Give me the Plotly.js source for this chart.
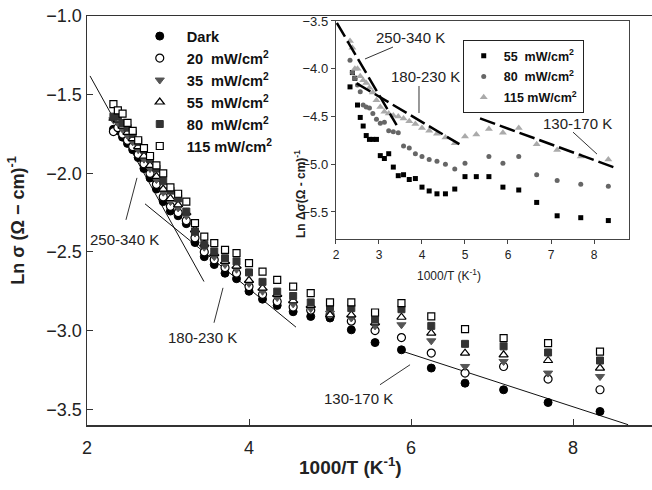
<!DOCTYPE html>
<html><head><meta charset="utf-8">
<script src="https://cdn.plot.ly/plotly-3.0.1.min.js"></script>
<style>body{margin:0;background:#fff}#plot{width:652px;height:490px}</style>
</head><body><div id="plot"></div>
<script>
// 1000/T values (K^-1)
const invT = [2.326, 2.381, 2.439, 2.5, 2.564, 2.632, 2.703, 2.778, 2.857, 2.941, 3.030, 3.125, 3.226, 3.333, 3.448, 3.571, 3.704, 3.846, 4.0, 4.167, 4.348, 4.545, 4.762, 5.0, 5.263, 5.556, 5.882, 6.25, 6.667, 7.143, 7.692, 8.333];
// Main plot: Ln sigma
const lnDark = [-1.72,-1.73,-1.77,-1.81,-1.85,-1.90,-1.97,-2.03,-2.10,-2.18,-2.24,-2.27,-2.32,-2.44,-2.53,-2.58,-2.635,-2.67,-2.75,-2.80,-2.84,-2.88,-2.91,-2.92,-2.995,-3.076,-3.122,-3.238,-3.334,-3.376,-3.457,-3.514];
const ln20 = [-1.735,-1.71,-1.75,-1.79,-1.83,-1.88,-1.94,-2.00,-2.07,-2.15,-2.21,-2.25,-2.30,-2.41,-2.50,-2.55,-2.60,-2.635,-2.72,-2.77,-2.815,-2.85,-2.87,-2.90,-2.94,-3.00,-3.044,-3.143,-3.27,-3.228,-3.308,-3.376];
const ln35 = [-1.66,-1.68,-1.72,-1.76,-1.80,-1.85,-1.91,-1.97,-2.04,-2.12,-2.18,-2.22,-2.27,-2.38,-2.47,-2.53,-2.58,-2.61,-2.70,-2.75,-2.79,-2.83,-2.86,-2.89,-2.92,-2.97,-2.963,-3.065,-3.228,-3.196,-3.27,-3.292];
const ln55 = [-1.65,-1.66,-1.70,-1.74,-1.78,-1.83,-1.89,-1.95,-2.02,-2.10,-2.16,-2.20,-2.25,-2.36,-2.45,-2.51,-2.56,-2.59,-2.68,-2.73,-2.77,-2.81,-2.84,-2.90,-2.90,-2.95,-2.915,-3.016,-3.143,-3.154,-3.19,-3.238];
const ln80 = [-1.64,-1.64,-1.68,-1.71,-1.75,-1.80,-1.85,-1.91,-1.97,-2.05,-2.11,-2.16,-2.243,-2.37,-2.455,-2.497,-2.54,-2.56,-2.63,-2.69,-2.752,-2.78,-2.821,-2.85,-2.857,-2.93,-2.864,-2.97,-3.084,-3.10,-3.139,-3.19];
const ln115 = [-1.56,-1.60,-1.62,-1.68,-1.73,-1.79,-1.84,-1.89,-1.95,-2.00,-2.09,-2.13,-2.18,-2.317,-2.402,-2.444,-2.487,-2.508,-2.571,-2.625,-2.677,-2.72,-2.762,-2.82,-2.82,-2.885,-2.825,-2.91,-2.99,-3.048,-3.08,-3.133];
const mainNames = ['Dark','20\u00a0\u00a0mW/cm<sup>2</sup>','35\u00a0\u00a0mW/cm<sup>2</sup>','55\u00a0\u00a0mW/cm<sup>2</sup>','80\u00a0\u00a0mW/cm<sup>2</sup>','115 mW/cm<sup>2</sup>'];
// Inset: Ln delta sigma
const dln55 = [-4.19,-4.04,-4.10,-4.38,-4.51,-4.60,-4.70,-4.74,-4.74,-4.74,-4.91,-4.94,-4.89,-5.03,-5.12,-5.11,-5.16,-5.15,-5.24,-5.28,-5.31,-5.31,-5.26,-5.13,-5.13,-5.13,-5.24,-5.27,-5.40,-5.54,-5.56,-5.59];
const dln80 = [-3.91,-4.04,-4.10,-4.17,-4.24,-4.38,-4.40,-4.41,-4.47,-4.53,-4.57,-4.56,-4.65,-4.66,-4.67,-4.81,-4.83,-4.89,-4.92,-4.95,-4.97,-5.00,-5.05,-4.99,null,-4.92,-4.99,-4.92,-5.11,-5.17,-5.21,-5.23];
const dln115 = [-3.71,-3.78,-4.00,-4.00,-4.08,-4.12,-4.15,-4.20,-4.25,-4.33,-4.40,-4.45,-4.47,-4.49,-4.50,-4.52,-4.55,-4.58,-4.62,-4.65,-4.68,-4.72,-4.78,-4.71,-4.69,-4.63,-4.67,-4.62,-4.79,-4.85,-4.92,-4.95];
const insetNames = ['55\u00a0\u00a0mW/cm<sup>2</sup>','80\u00a0\u00a0mW/cm<sup>2</sup>','115 mW/cm<sup>2</sup>'];
// Fit lines (endpoints)
const mainFitX = [[2.037,3.444],[2.716,4.58],[5.84,8.68]];
const mainFitY = [[-1.381,-2.688],[-2.194,-2.978],[-3.122,-3.598]];
const insetFitX = [[2.02,3.41],[2.48,4.87],[5.35,8.45]];
const insetFitY = [[-3.52,-4.59],[-4.153,-4.79],[-4.52,-5.03]];
const rangeLabels = ['250-340 K','180-230 K','130-170 K'];

const FONT = 'Liberation Sans, Arial, sans-serif';
const mainSeries = [lnDark, ln20, ln35, ln55, ln80, ln115];
const mainMarkers = [
  {symbol:'circle', size:8, color:'#000', line:{color:'#000',width:1}},
  {symbol:'circle', size:8, color:'#fff', line:{color:'#000',width:1.2}},
  {symbol:'triangle-down', size:8, color:'#555', line:{color:'#555',width:1}},
  {symbol:'triangle-up', size:8, color:'#fff', line:{color:'#000',width:1.2}},
  {symbol:'square', size:7, color:'#333', line:{color:'#333',width:1}},
  {symbol:'square', size:7, color:'#fff', line:{color:'#000',width:1.2}}
];
const traces = [];
mainFitX.forEach((fx,i)=>traces.push({x:fx,y:mainFitY[i],mode:'lines',line:{color:'#111',width:1},showlegend:false,hoverinfo:'skip'}));
mainSeries.forEach((s,i)=>traces.push({x:invT,y:s,mode:'markers',name:mainNames[i],marker:mainMarkers[i],legend:'legend',legendgroup:'g'+i}));

const insetSeries = [dln55, dln80, dln115];
const insetMarkers = [
  {symbol:'square', size:5, color:'#000'},
  {symbol:'circle', size:5, color:'#666'},
  {symbol:'triangle-up', size:7, color:'#aaa'}
];
insetSeries.forEach((s,i)=>traces.push({x:invT,y:s,xaxis:'x2',yaxis:'y2',mode:'markers',name:insetNames[i],marker:insetMarkers[i],legend:'legend2',legendgroup:'h'+i}));
insetFitX.forEach((fx,i)=>traces.push({x:fx,y:insetFitY[i],xaxis:'x2',yaxis:'y2',mode:'lines',line:{color:'#000',width:2.5,dash:'16px,5px'},showlegend:false,hoverinfo:'skip'}));

const shapes = [];
const mainPtr = [[2.481,-2.296,2.617,-2.029],[3.568,-2.950,3.679,-2.728],[5.617,-3.344,5.988,-3.217]];
mainPtr.forEach(p=>shapes.push({type:'line',xref:'x',yref:'y',x0:p[0],y0:p[1],x1:p[2],y1:p[3],line:{color:'#333',width:1}}));
const insetPtr = [[3.326,-3.773,2.674,-3.898],[3.93,-4.181,3.93,-4.464],[7.512,-4.664,8.07,-4.894]];
insetPtr.forEach(p=>shapes.push({type:'line',xref:'x2',yref:'y2',x0:p[0],y0:p[1],x1:p[2],y1:p[3],line:{color:'#333',width:1}}));

const annotations = [];
const mainLab = [[2.457,-2.423],[3.42,-3.046],[5.346,-3.433]];
mainLab.forEach((p,i)=>annotations.push({xref:'x',yref:'y',x:p[0],y:p[1],text:rangeLabels[i],showarrow:false,font:{family:FONT,size:15,color:'#222'}}));
const insetLab = [[3.744,-3.668],[4.093,-4.077],[7.605,-4.569]];
insetLab.forEach((p,i)=>annotations.push({xref:'x2',yref:'y2',x:p[0],y:p[1],text:rangeLabels[i],showarrow:false,font:{family:FONT,size:15,color:'#222'}}));
annotations.push({xref:'paper',yref:'paper',x:0.467,y:-0.135,text:'<b>1000/T (K<sup>-1</sup>)</b>',showarrow:false,font:{family:FONT,size:19,color:'#222'}});
annotations.push({xref:'paper',yref:'paper',x:0.701,y:0.3667,text:'1000/T (K<sup>-1</sup>)',showarrow:false,font:{family:FONT,size:12,color:'#222'}});
annotations.push({xref:'paper',yref:'paper',x:0.377,y:0.677,text:'<b>Ln Δσ(Ω - cm)<sup>-1</sup></b>',textangle:-90,showarrow:false,font:{family:FONT,size:12,color:'#222'}});

const layout = {
  width:652, height:490,
  margin:{l:87,r:0,t:16,b:65},
  paper_bgcolor:'#fff', plot_bgcolor:'#fff',
  font:{family:FONT,color:'#222'},
  showlegend:true,
  xaxis:{range:[2,8.975],tickvals:[2,4,6,8],ticks:'inside',ticklen:6,tickcolor:'#333',ticklabelstandoff:6,showline:true,linecolor:'#333',linewidth:1.5,mirror:true,showgrid:false,zeroline:false,tickfont:{size:18,family:FONT,color:'#222'}},
  yaxis:{range:[-3.6,-1.0],tickvals:[-3.5,-3.0,-2.5,-2.0,-1.5,-1.0],tickformat:'.1f',ticks:'inside',ticklen:6,tickcolor:'#333',showline:true,linecolor:'#333',linewidth:1.5,showgrid:false,zeroline:false,tickfont:{size:18,family:FONT,color:'#222'},
    title:{text:'<b>Ln σ (Ω − cm)<sup>-1</sup></b>',font:{size:18,family:FONT,color:'#222'},standoff:17}},
  xaxis2:{domain:[0.4407,0.9593],anchor:'y2',range:[2,8.814],dtick:1,ticks:'outside',ticklen:4,tickcolor:'#444',showline:true,linecolor:'#444',linewidth:1.2,mirror:true,showgrid:false,zeroline:false,tickfont:{size:12,family:FONT,color:'#222'}},
  yaxis2:{domain:[0.4548,0.9878],anchor:'x2',range:[-5.783,-3.5],tickvals:[-5.5,-5.0,-4.5,-4.0,-3.5],tickformat:'.1f',ticks:'outside',ticklen:4,tickcolor:'#444',showline:true,linecolor:'#444',linewidth:1.2,mirror:true,showgrid:false,zeroline:false,tickfont:{size:13,family:FONT,color:'#222'}},
  legend:{x:0.081,y:0.99,xanchor:'left',yanchor:'top',bgcolor:'rgba(0,0,0,0)',borderwidth:0,itemwidth:44,tracegroupgap:0,font:{family:FONT,size:14.6,color:'#111',weight:'bold'}},
  legend2:{x:0.665,y:0.9413,xanchor:'left',yanchor:'top',bgcolor:'#fff',bordercolor:'#222',borderwidth:1,itemwidth:30,tracegroupgap:1.5,font:{family:FONT,size:12.5,color:'#111',weight:'bold'}},
  shapes:shapes,
  annotations:annotations
};
Plotly.newPlot('plot',traces,layout,{displayModeBar:false,staticPlot:true});
</script></body></html>
